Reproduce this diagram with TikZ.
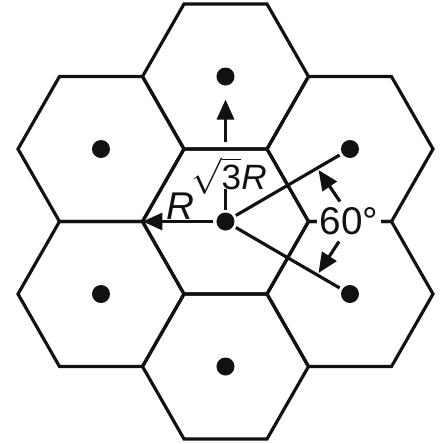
\documentclass[tikz,border=0pt]{standalone}
\usepackage{fontspec}
\setmainfont{Liberation Sans}
\usetikzlibrary{arrows.meta}
\definecolor{cellline}{HTML}{111111}
\definecolor{cellpaper}{HTML}{FFFFFF}
\tikzset{
  cell hex/.style={
    draw=cellline, line width=1.8pt, line join=miter
  },
  cell dot/.style={
    circle, fill=cellline, inner sep=0pt,
    minimum size=0.36cm, outer sep=0.06cm
  },
  dim line/.style={
    draw=cellline, line width=1.8pt
  },
  dim arrow/.style={
    dim line,
    -{Triangle[length=4mm,width=3.4mm]}
  },
  dim label/.style={
    text=cellline, font=\fontsize{22}{26}\selectfont,
    inner sep=1pt
  }
}
\newcommand\cellhex[1]{%
  \draw[cell hex] (#1) ++(-0.83,1.45) -- ++(1.66,0) -- ++(0.83,-1.45)
    -- ++(-0.83,-1.45) -- ++(-1.66,0) -- ++(-0.83,1.45) -- cycle;}

\begin{document}
\begin{tikzpicture}
  \useasboundingbox (-4.51,-4.45) rectangle (4.31,4.43);
  \node[cell dot] (c0) at (0,0) {};
  \node[cell dot] (cn) at (0,2.9) {};
  \node[cell dot] (cs) at (0,-2.9) {};
  \node[cell dot] (cnw) at (-2.49,1.45) {};
  \node[cell dot] (cne) at (2.49,1.45) {};
  \node[cell dot] (csw) at (-2.49,-1.45) {};
  \node[cell dot] (cse) at (2.49,-1.45) {};

  \cellhex{c0.center}
  \cellhex{cn.center}
  \cellhex{cs.center}
  \cellhex{cnw.center}
  \cellhex{cne.center}
  \cellhex{csw.center}
  \cellhex{cse.center}

  % radius and spacing
  \coordinate (west corner) at (-1.66,0);
  \draw[dim arrow] (c0) -- (west corner);
  \node[dim label] (radius label) at (-0.91,0.31) {\textit{R}};
  \node[dim label,font=\fontsize{20}{24}\selectfont] (spacing label) at (0.07,0.91) {$\sqrt{\mbox{3}}$\textit{R}};
  \coordinate (stem top) at (0,0.66);
  \coordinate (spacing tail) at (0,1.59);
  \draw[dim line] (c0) -- (stem top);
  \draw[dim arrow, shorten >=0.22cm] (spacing tail) -- (cn);

  % angle between the two rays
  \draw[dim line] (c0) -- (cne);
  \draw[dim line] (c0) -- (cse);
  \node[dim label, fill=cellpaper, inner xsep=1.5pt] (angle label) at (2.47,0) {60°};
  \coordinate (upper tail) at (2.29,0.40);
  \coordinate (upper tip) at (1.86,1.03);
  \coordinate (lower tail) at (2.27,-0.40);
  \coordinate (lower tip) at (1.86,-1.03);
  \draw[dim arrow] (upper tail) -- (upper tip);
  \draw[dim arrow] (lower tail) -- (lower tip);
\end{tikzpicture}
\end{document}
